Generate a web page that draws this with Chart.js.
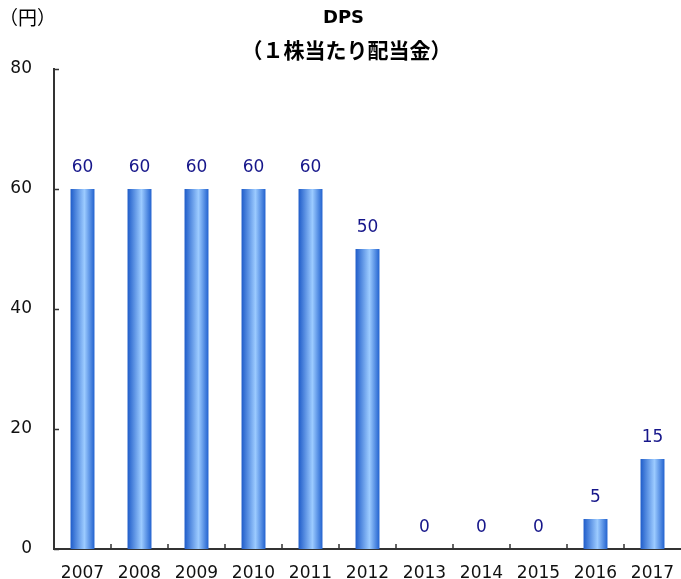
<!DOCTYPE html>
<html>
<head>
<meta charset="utf-8">
<script src="https://cdn.jsdelivr.net/npm/chart.js@4.4.1/dist/chart.umd.min.js"></script>
<style>
  html, body { margin: 0; padding: 0; background: #fff; }
  #wrap { width: 681px; height: 579px; }
</style>
</head>
<body>
<div id="wrap"><canvas id="dpsChart"></canvas></div>
<script>
// Dividend per share by fiscal year
const years = ['2007', '2008', '2009', '2010', '2011', '2012', '2013', '2014', '2015', '2016', '2017'];
const dps = [60, 60, 60, 60, 60, 50, 0, 0, 0, 5, 15];
const yTicks = [0, 20, 40, 60, 80];

const BAR_PCT = 0.42;
const numFont = '"DejaVu Sans", "Liberation Sans", Arial, sans-serif';
const jpFont = '"Noto Sans CJK JP", sans-serif';

// Horizontal "cylinder" gradient for each bar
function barGradient(context) {
    const chart = context.chart;
    const xs = chart.scales.x;
    if (!xs || context.dataIndex === undefined) return '#3a80e0';
    const cx = xs.getPixelForValue(context.dataIndex);
    const w = xs.width / years.length * BAR_PCT;
    if (!isFinite(cx) || !isFinite(w) || w <= 0) return '#3a80e0';
    const g = chart.ctx.createLinearGradient(cx - w / 2, 0, cx + w / 2, 0);
    g.addColorStop(0, '#1f5cc9');
    g.addColorStop(0.58, '#9ccbff');
    g.addColorStop(1, '#2262cf');
    return g;
}

// Titles, unit label, value labels and inward tick marks
const extras = {
    id: 'extras',
    afterDraw(chart) {
        const ctx = chart.ctx;
        const area = chart.chartArea;
        const xs = chart.scales.x;
        const ys = chart.scales.y;
        ctx.save();

        ctx.fillStyle = '#000';
        ctx.textAlign = 'center';
        ctx.textBaseline = 'middle';
        ctx.font = 'bold 18px ' + numFont;
        ctx.fillText('DPS', chart.width / 2 + 3, 18);
        ctx.font = 'bold 21px ' + jpFont;
        ctx.fillText('（１株当たり配当金）', chart.width / 2 + 6, 50);

        ctx.textAlign = 'left';
        ctx.font = '19px ' + jpFont;
        ctx.fillText('（円）', -1, 18);

        // tick marks pointing into the plot
        ctx.strokeStyle = '#333';
        ctx.lineWidth = 1.5;
        ctx.beginPath();
        yTicks.forEach(v => {
            const py = Math.round(ys.getPixelForValue(v)) + 0.5;
            ctx.moveTo(area.left, py);
            ctx.lineTo(area.left + 5, py);
        });
        for (let i = 1; i < years.length; i++) {
            const px = Math.round((xs.getPixelForValue(i - 1) + xs.getPixelForValue(i)) / 2);
            ctx.moveTo(px, area.bottom);
            ctx.lineTo(px, area.bottom - 5);
        }
        ctx.stroke();

        // value labels above bars
        ctx.fillStyle = '#16168a';
        ctx.textAlign = 'center';
        ctx.font = '17px ' + numFont;
        const meta = chart.getDatasetMeta(0);
        meta.data.forEach((bar, i) => {
            ctx.fillText(String(dps[i]), bar.x, bar.y - 21);
        });
        ctx.restore();
    }
};

const ctx = document.getElementById('dpsChart').getContext('2d');
const dpsChart = new Chart(ctx, {
    type: 'bar',
    data: {
        labels: years,
        datasets: [{
            label: 'DPS',
            data: dps,
            backgroundColor: barGradient,
            borderWidth: 0,
            barPercentage: BAR_PCT,
            categoryPercentage: 1
        }]
    },
    options: {
        responsive: true,
        maintainAspectRatio: false,
        animation: false,
        layout: {
            padding: { top: 69, left: 10, right: 0, bottom: 0 }
        },
        plugins: {
            legend: { display: false },
            tooltip: { enabled: false }
        },
        scales: {
            x: {
                grid: { display: false, drawTicks: false, tickLength: 0 },
                border: { display: true, color: '#333', width: 2 },
                ticks: {
                    color: '#111',
                    font: { family: numFont, size: 17 },
                    padding: 14,
                    maxRotation: 0
                },
                afterFit(scale) {
                    scale.height = 30;
                    scale.paddingLeft = 0;
                    scale.paddingRight = 0;
                }
            },
            y: {
                min: 0,
                max: 80,
                afterBuildTicks(scale) {
                    scale.ticks = yTicks.map(v => ({ value: v }));
                },
                grid: { display: false, drawTicks: false, tickLength: 0 },
                border: { display: true, color: '#333', width: 2 },
                ticks: {
                    color: '#111',
                    font: { family: numFont, size: 17 },
                    padding: 22
                },
                afterFit(scale) {
                    scale.width = 44;
                    scale.paddingTop = 0;
                    scale.paddingBottom = 0;
                }
            }
        }
    },
    plugins: [extras]
});
</script>
</body>
</html>
